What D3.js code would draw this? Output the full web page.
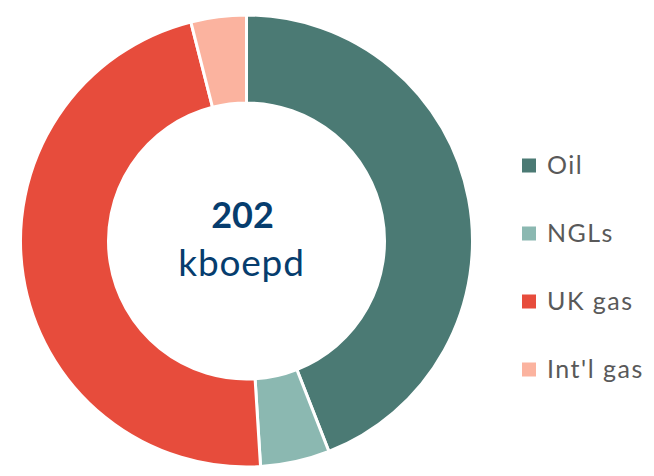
<!DOCTYPE html>
<html lang="en">
<head>
  <meta charset="UTF-8">
  <title>Production mix</title>
  <style>
    body { margin: 0; background: #fff; }
  </style>
</head>
<body>
  <svg id="svg" width="654" height="476"></svg>
  <script src="https://d3js.org/d3.v7.min.js"></script>
  <script>
    const categories = ['Oil', 'NGLs', 'UK gas', "Int'l gas"]
    const values = [89, 10, 95, 8]
    const colors = ['#4b7a74', '#8bb8b1', '#e74c3c', '#fbb39f']
    const total = 202
    const unit = 'kboepd'

    const cx = 246.5, cy = 241
    const outerR = 226, innerR = 138

    const svg = d3.select('#svg')

    const pie = d3.pie().sort(null).value(d => d)
    const arc = d3.arc().innerRadius(innerR).outerRadius(outerR)

    const g = svg.append('g').attr('transform', `translate(${cx},${cy})`)

    g.selectAll('path')
      .data(pie(values))
      .enter()
      .append('path')
      .attr('d', arc)
      .attr('fill', (d, i) => colors[i])
      .attr('stroke', '#fff')
      .attr('stroke-width', 3)

    // centre label
    g.append('text')
      .text(total)
      .attr('x', -4)
      .attr('y', -13)
      .attr('text-anchor', 'middle')
      .style('font-family', 'Lato')
      .style('font-weight', 'bold')
      .style('font-size', '36px')
      .attr('fill', '#063d6e')

    g.append('text')
      .text(unit)
      .attr('x', -5)
      .attr('y', 35)
      .attr('text-anchor', 'middle')
      .style('font-family', 'Lato')
      .style('font-size', '37px')
      .style('letter-spacing', '0.8px')
      .attr('fill', '#063d6e')

    // legend
    const legendY = d3.scalePoint()
      .domain(categories)
      .range([165.5, 369.5])

    const items = svg.selectAll('g.legend')
      .data(categories)
      .enter()
      .append('g')
      .attr('class', 'legend')
      .attr('transform', d => `translate(522,${legendY(d)})`)

    items.append('rect')
      .attr('x', 0)
      .attr('y', -7)
      .attr('width', 14)
      .attr('height', 14)
      .attr('fill', (d, i) => colors[i])

    items.append('text')
      .text(d => d)
      .attr('x', 25)
      .attr('y', 8.8)
      .style('font-family', 'Lato')
      .style('font-size', '25px')
      .style('letter-spacing', '1.5px')
      .attr('fill', '#595959')
  </script>
</body>
</html>
